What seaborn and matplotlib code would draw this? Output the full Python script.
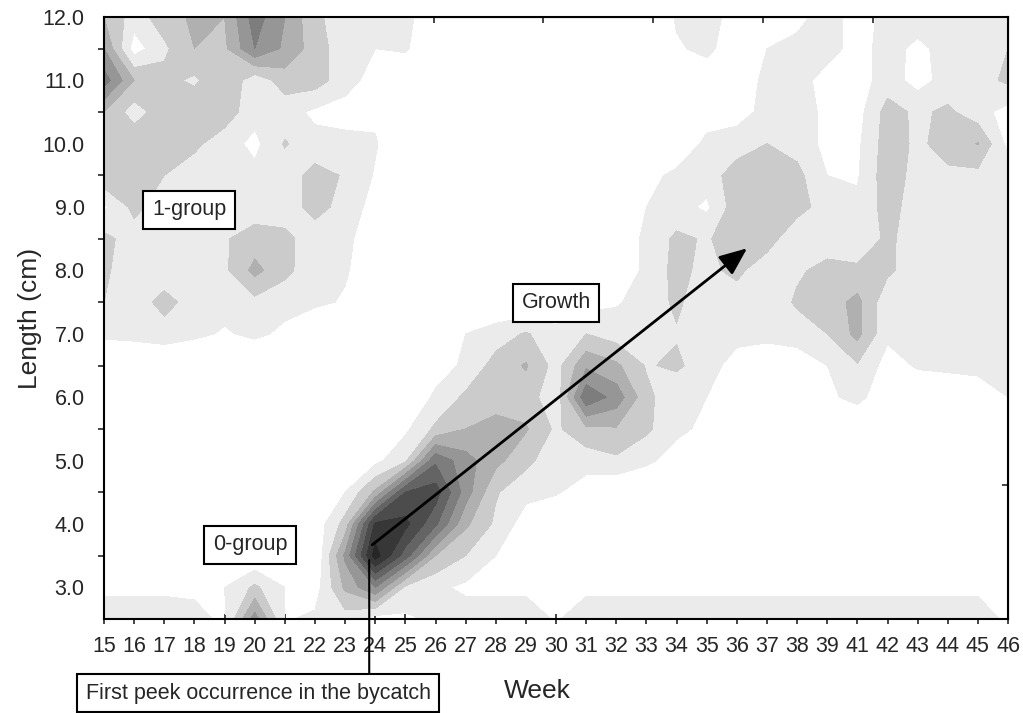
import numpy as np
import matplotlib
matplotlib.use("Agg")
import matplotlib.pyplot as plt
import seaborn as sns

sns.set_style("ticks")
plt.rcParams["font.family"] = ["Liberation Sans", "DejaVu Sans"]

# ----- data: weekly length distribution (relative density, contour units) -----
week_labels = [15, 16, 17, 18, 19, 20, 21, 22, 23, 24, 25, 26, 27, 28, 29, 30,
               31, 32, 33, 34, 35, 36, 37, 38, 39, 41, 42, 43, 44, 45, 46]
lengths_desc = [12.0, 11.5, 11.0, 10.5, 10.0, 9.5, 9.0, 8.5, 8.0, 7.5,
                7.0, 6.5, 6.0, 5.5, 5.0, 4.5, 4.0, 3.5, 3.0, 2.5]

# one row per length class (top = 12.0 cm), one value per week column
density_rows = [
    [3.0, 1.5, 2.5, 3.2, 3.0, 5.5, 4.0, 2.2, 1.5, 1.3, 1.2, 0.5, 0, 0, 0, 0, 0, 0, 0, 1.1, 1.3, 0.7, 0.3, 0.8, 1.3, 0.7, 1.2, 1.4, 1.4, 1.3, 1.3],
    [4.0, 0.5, 1.8, 3.0, 2.8, 5.0, 3.8, 2.5, 1.4, 1.0, 1.1, 0.3, 0, 0, 0, 0, 0, 0, 0, 0.9, 1.2, 0.5, 1.0, 1.2, 1.3, 0.7, 1.3, 0.8, 1.3, 1.5, 2.0],
    [5.5, 3.0, 2.3, 1.8, 3.0, 1.3, 2.5, 2.5, 1.4, 0.6, 0.3, 0, 0, 0, 0, 0, 0, 0, 0, 0.3, 0.5, 0.5, 1.2, 1.3, 0.7, 0.5, 1.5, 0.6, 1.4, 1.6, 2.2],
    [3.0, 1.5, 2.6, 2.8, 2.5, 1.4, 1.4, 0.8, 0.6, 0.8, 0, 0, 0, 0, 0, 0, 0, 0, 0, 0, 0.4, 0.6, 1.3, 1.4, 0.8, 0.6, 2.4, 1.8, 2.2, 1.4, 0.6],
    [3.0, 2.8, 2.8, 2.2, 1.5, 0.7, 2.1, 1.3, 1.3, 1.1, 0, 0, 0, 0, 0, 0, 0, 0, 0, 0, 1.3, 1.5, 2.0, 1.6, 0.7, 0.8, 2.5, 1.8, 2.4, 3.05, 0.7],
    [2.8, 2.5, 2.0, 1.5, 1.5, 1.3, 1.4, 2.4, 1.9, 0.9, 0, 0, 0, 0, 0, 0, 0, 0, 0.6, 1.3, 1.5, 2.5, 2.6, 2.3, 1.0, 0.9, 2.6, 1.6, 1.8, 1.7, 1.7],
    [0.8, 2.3, 1.4, 1.4, 1.4, 1.4, 1.4, 2.4, 1.6, 0.6, 0, 0, 0, 0, 0, 0, 0, 0, 1.0, 1.4, 0.8, 2.6, 2.7, 2.5, 1.4, 1.2, 2.4, 1.5, 1.4, 1.5, 1.3],
    [2.3, 1.5, 1.3, 1.3, 1.9, 2.5, 2.3, 1.4, 1.2, 0.5, 0, 0, 0, 0, 0, 0, 0, 0, 1.3, 2.2, 1.9, 2.5, 2.6, 1.0, 1.3, 1.3, 2.2, 1.5, 1.3, 1.9, 2.0],
    [2.2, 1.3, 1.3, 1.3, 1.8, 3.3, 2.3, 1.3, 1.1, 0.4, 0, 0, 0, 0, 0, 0, 0, 0, 1.3, 2.3, 1.7, 2.3, 1.2, 1.8, 2.4, 2.2, 2.2, 1.4, 1.3, 1.3, 1.2],
    [2.0, 1.4, 2.4, 1.5, 1.3, 1.7, 1.3, 1.2, 0.9, 0, 0, 0, 0, 0, 0, 0, 0.6, 0.9, 1.4, 2.2, 1.3, 1.4, 1.1, 2.2, 2.5, 3.3, 1.3, 1.3, 1.3, 1.2, 1.1],
    [1.2, 1.3, 1.5, 1.2, 0.9, 1.2, 0.8, 0, 0, 0, 0, 0, 1.0, 1.5, 2.1, 1.4, 2.0, 1.5, 1.3, 1.9, 2.0, 1.3, 1.2, 1.3, 2.0, 3.3, 1.2, 1.3, 1.3, 1.2, 1.2],
    [0, 0, 0, 0, 0, 0, 0, 0, 0, 0, 0, 0.5, 1.2, 2.4, 3.1, 1.6, 3.8, 3.2, 1.9, 2.2, 1.4, 0.6, 0.5, 0.6, 1.0, 1.9, 0.6, 1.1, 1.2, 1.2, 1.2],
    [0, 0, 0, 0, 0, 0, 0, 0, 0, 0, 0, 1.2, 2.2, 2.5, 2.5, 1.3, 5.8, 4.6, 2.3, 1.2, 1.0, 0.3, 0.3, 0.3, 0.8, 1.3, 0.3, 0.3, 0.3, 0.6, 1.0],
    [0, 0, 0, 0, 0, 0, 0, 0, 0, 0, 0.8, 2.2, 3.0, 3.4, 3.1, 1.8, 2.8, 2.9, 2.2, 1.2, 0.8, 0, 0, 0, 0, 0, 0, 0, 0, 0, 0],
    [0, 0, 0, 0, 0, 0, 0, 0, 0.2, 0.7, 1.8, 5.8, 4.4, 3.3, 2.3, 1.3, 1.4, 1.8, 1.2, 0.6, 0, 0, 0, 0, 0, 0, 0, 0, 0, 0, 0],
    [0, 0, 0, 0, 0, 0, 0, 0, 1.0, 3.2, 7.0, 7.5, 4.5, 2.1, 1.3, 1.1, 0.5, 0, 0, 0, 0, 0, 0, 0, 0, 0, 0, 0, 0, 0, 0],
    [0, 0, 0, 0, 0, 0, 0, 0.3, 2.4, 8.2, 8.3, 6.2, 3.2, 1.8, 0.5, 0, 0, 0, 0, 0, 0, 0, 0, 0, 0, 0, 0, 0, 0, 0, 0],
    [0, 0, 0, 0, 0, 0, 0, 0, 4.2, 9.5, 6.5, 3.0, 2.0, 1.0, 0, 0, 0, 0, 0, 0, 0, 0, 0, 0, 0, 0, 0, 0, 0, 0, 0],
    [0.8, 0.8, 0.8, 0.8, 1.0, 2.2, 1.0, 0.5, 3.2, 5.0, 1.8, 1.2, 0.8, 0.8, 0.8, 0.8, 0.8, 0.8, 0.8, 0.8, 0.8, 0.8, 0.8, 0.8, 0.8, 0.8, 0.8, 0.8, 0.8, 0.8, 0.8],
    [1.5, 1.5, 1.5, 1.3, 0.8, 4.5, 0.9, 1.2, 1.5, 0.5, 0.8, 1.2, 1.5, 1.5, 1.5, 0.9, 1.5, 1.5, 1.5, 1.5, 1.5, 1.5, 1.5, 1.5, 1.5, 1.5, 1.5, 1.5, 1.5, 1.5, 0.8],
]

contour_levels = [1, 2, 3, 4, 5, 6, 7, 8, 9, 10]
gray_fills = ["#ebebeb", "#cbcbcb", "#b0b0b0", "#969696", "#7d7d7d",
              "#646464", "#4c4c4c", "#373737", "#262626"]

# ----- build grid -----
x_pos = np.arange(len(week_labels))
lengths = np.array(lengths_desc[::-1])
z = np.array(density_rows[::-1], dtype=float)

fig = plt.figure(figsize=(10.23, 7.13), dpi=100)
ax = fig.add_axes([0.1017, 0.1318, 0.8837, 0.8444])

ax.contourf(x_pos, lengths, z, levels=contour_levels, colors=gray_fills)

ax.set_xlim(0, len(week_labels) - 1)
ax.set_ylim(2.5, 12.0)

# ticks
ax.set_xticks(x_pos)
ax.set_xticklabels([str(w) for w in week_labels])
ax.set_yticks(np.arange(3, 13, 1.0))
ax.set_yticklabels([f"{v:.1f}" for v in np.arange(3, 13, 1.0)])
ax.set_yticks(np.arange(3.5, 12, 1.0), minor=True)
ax.tick_params(axis="x", which="major", direction="inout", length=7, width=1.2,
               labelsize=15.5, pad=9, top=False)
ax.tick_params(axis="y", which="major", length=0, labelsize=15.5, pad=14, right=False)
ax.tick_params(axis="y", which="minor", direction="out", length=4, width=1.2, right=False)

for sp in ax.spines.values():
    sp.set_linewidth(1.5)
    sp.set_color("black")

# Statistica-style secondary ticks along top and right frame
top_ax = ax.secondary_xaxis("top")
top_ax.set_xticks(np.arange(1, 9) * 3.645, labels=[])
top_ax.tick_params(direction="in", length=4, width=1.2)
right_ax = ax.secondary_yaxis("right")
right_ax.set_yticks(11.73 - np.arange(4) * 2.37, labels=[])
right_ax.tick_params(direction="in", length=4, width=1.2)

ax.set_xlabel("Week", fontsize=19)
ax.set_ylabel("Length (cm)", fontsize=19)
ax.xaxis.set_label_coords(0.479, -0.100)
ax.yaxis.set_label_coords(-0.069, 0.5)

# ----- annotations -----
box = dict(boxstyle="square,pad=0.4", fc="white", ec="black", lw=1.5)
ax.text(2.82, 8.96, "1-group", fontsize=15.5, ha="center", va="center", bbox=box)
ax.text(15.0, 7.49, "Growth", fontsize=15.5, ha="center", va="center", bbox=box)
ax.text(4.85, 3.67, "0-group", fontsize=15.5, ha="center", va="center", bbox=box)

ax.annotate("", xy=(21.34, 8.35), xytext=(8.9, 3.67),
            arrowprops=dict(arrowstyle="-|>,head_length=0.6,head_width=0.25",
                            color="black", lw=2, mutation_scale=28,
                            shrinkA=0, shrinkB=0))

# pointer from the first-peak label up into the 0-group core
ax.annotate("", xy=(8.8, 3.43), xycoords="data",
            xytext=(8.8, 1 - 675 / 713), textcoords=("data", "figure fraction"),
            arrowprops=dict(arrowstyle="-", color="black", lw=1.5,
                            shrinkA=0, shrinkB=0))
fig.text(258 / 1023, 1 - 693 / 713, "First peek occurrence in the bycatch",
         fontsize=15.5, ha="center", va="center", bbox=box)

fig.savefig("out.png", dpi=100)
